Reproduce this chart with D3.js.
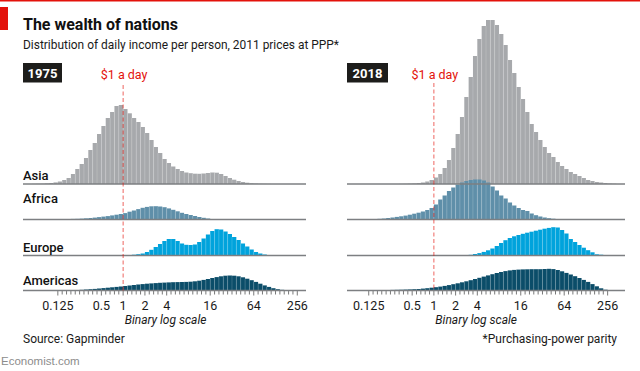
<!DOCTYPE html>
<html>
<head>
<meta charset="utf-8">
<script src="https://cdn.jsdelivr.net/npm/d3@7"></script>
<style>
  body { margin: 0; background: #fff; }
  svg { display: block; }
  text { font-family: Roboto, "Noto Sans", sans-serif; }
</style>
</head>
<body>
<svg id="chart" width="640" height="371"></svg>
<script>
// income bins: log2 of first bin edge, bins are 1/5 of a doubling wide
const binStart = -4.6;
const binStep = 0.2;

const regions = ['Asia', 'Africa', 'Europe', 'Americas'];
const years = ['1975', '2018'];
const tickLabels = [0.125, 0.5, 1, 2, 4, 16, 64, 256];
const povertyLine = 1;

// share of people per bin (arbitrary units)
const asia1975 = [0,0,0.1,0.2,0.3,0.6,1.0,1.6,2.5,4,6,10,15,20,26,34,41,50,58,66,72,78,79,75,70.7,66,62,57,51,44,37,31,25,21,17.5,15,13,11.5,10.8,10.3,10.2,10.5,11,11.5,11.3,10,8,6,4.3,3,2,1.3,0.8,0.5,0.3,0.2,0.1];
const africa1975 = [0,0,0.1,0.1,0.1,0.2,0.2,0.3,0.3,0.4,0.5,0.6,0.7,0.9,1.2,1.5,1.9,2.4,2.9,3.4,4.1,4.8,5.5,6.4,7.8,9,10.4,11.7,12.6,13.2,13.3,13,12.3,11.1,9.7,8.2,6.7,5.5,4.5,3.5,2.5,1.7,1.0,0.5,0.3,0.2,0.1];
const europe1975 = [0,0,0,0,0,0,0,0,0,0,0,0,0,0,0,0,0,0,0,0,0,0,0.1,0.3,0.5,0.8,1.3,2,3.5,5.7,8.5,11.5,14.5,16.5,16.5,14.5,12,10.7,10.5,11,13.5,17,21,24.5,26.3,26,24,21.5,18.5,15.5,12,9,6,3.5,2,1,0.5,0.2];
const americas1975 = [0,0,0,0,0,0.05,0.08,0.1,0.15,0.2,0.25,0.3,0.45,0.7,1.0,1.3,1.6,2.0,2.4,2.8,3.2,3.6,4.0,4.5,5.0,5.5,6.0,6.4,6.8,7.1,7.4,7.7,7.9,8.1,8.3,8.4,8.5,8.6,8.8,9.2,9.8,10.6,11.5,12.5,13.4,14.2,14.8,15,14.8,14.2,13.2,11.8,10.3,8.6,6.8,5.1,3.6,2.3,1.3,0.7,0.35,0.15];

const asia2018 = [0,0,0,0,0,0,0,0,0,0,0,0,0,0,0,0.1,0.2,0.4,0.6,1,1.5,2.5,4,6.5,10,16,24,36,50,67,87,107,128,145,158,164,164,159,150,139,124,111,97,85,72,60,52,44,37,31,27,22,18,15,12,10,8,6,4,3,2,1.5,1,0.5,0.3];
const africa2018 = [0,0,0,0.1,0.15,0.2,0.2,0.25,0.35,0.5,0.7,1.0,1.5,2.0,2.6,3.2,3.9,4.8,5.8,6.8,8,9.5,11.5,15,20,24,28.5,32,35,37,38.5,39.5,40,40,39,37,33,29,24,21,17,14,11.5,9.5,8.5,6,4.3,3,2,1.3,0.8,0.5,0.3,0.2,0.1];
const europe2018 = [0,0,0,0,0,0,0,0,0,0,0,0,0,0,0,0,0,0,0,0,0,0,0,0,0,0,0,0,0,0.1,0.3,0.7,1.5,2.4,3.6,5.2,7,9.5,12.5,15.3,17.5,19.2,20.5,21.7,22.8,23.8,24.8,25.8,26.8,27.6,28.3,28,25.5,22,16.5,13.5,10.5,7.8,5.3,3.2,1.2,0.8,0.3,0.1];
const americas2018 = [0,0,0,0.05,0.08,0.1,0.12,0.15,0.2,0.25,0.3,0.4,0.5,0.6,0.7,0.8,0.95,1.1,1.3,1.5,1.9,2.3,2.8,3.3,3.9,4.6,5.4,6.3,7.2,8.2,9.2,10.3,11.5,12.7,13.9,15.1,16.3,17.5,18.5,19.4,20.1,20.6,20.9,21.1,21.2,21.3,21.3,21.3,21.5,21.7,21.4,20.5,19.2,17.6,16,14.3,12.5,10.6,8.6,6.4,4.2,2.2,0.8,0.2];

const seriesByYear = {
    '1975': [asia1975, africa1975, europe1975, americas1975],
    '2018': [asia2018, africa2018, europe2018, americas2018],
};

// layout
const panels = [
    {year: '1975', x0: 23, x1: 306, lo: -4.6, hi: 8.4, boxW: 39, dashTop: 85, labels: true},
    {year: '2018', x0: 347, x1: 625, lo: -4.0, hi: 8.8, boxW: 41, dashTop: 83, labels: false},
];
const baselines = [184, 219.5, 255.5, 290.5];
const labelY = [180, 203, 252, 285];
const colors = ['#a7a9ac', '#5f8fa9', '#00a3dc', '#0b4d69'];
const red = '#e3120b';

const svg = d3.select('#chart');

// header
svg.append('rect').attr('x', 0).attr('y', 0).attr('width', 640).attr('height', 1.5).attr('fill', red);
svg.append('rect').attr('x', 0).attr('y', 7).attr('width', 8).attr('height', 23).attr('fill', red);
svg.append('text').attr('x', 23).attr('y', 30)
    .attr('font-size', 16.5).attr('font-weight', 700).attr('fill', '#111')
    .attr('textLength', 155).attr('lengthAdjust', 'spacingAndGlyphs')
    .text('The wealth of nations');
svg.append('text').attr('x', 23).attr('y', 49)
    .attr('font-size', 12.2).attr('fill', '#1a1a1a')
    .attr('textLength', 316).attr('lengthAdjust', 'spacingAndGlyphs')
    .text('Distribution of daily income per person, 2011 prices at PPP*');

const y = d3.scaleLinear().domain([0, 100]).range([0, 100]);

panels.forEach(p => {
    const x = d3.scaleLog().base(2).domain([2 ** p.lo, 2 ** p.hi]).range([p.x0, p.x1]);
    const g = svg.append('g');

    // year box
    g.append('rect').attr('x', p.x0).attr('y', 63).attr('width', p.boxW).attr('height', 19.5).attr('fill', '#1d1d1b');
    g.append('text').attr('x', p.x0 + p.boxW / 2).attr('y', 77.5)
        .attr('text-anchor', 'middle').attr('font-size', 13).attr('font-weight', 700).attr('fill', '#fff')
        .text(p.year);

    // bars
    seriesByYear[p.year].forEach((values, s) => {
        const bins = values.map((v, i) => ({
            v: v,
            a: 2 ** (binStart + i * binStep),
            b: 2 ** (binStart + (i + 1) * binStep),
        })).filter(d => d.v > 0 && d.b > 2 ** p.lo);

        const bars = g.append('g');
        bars.selectAll('rect')
            .data(bins)
            .enter().append('rect')
            .attr('x', d => Math.max(x(d.a), p.x0))
            .attr('width', d => Math.max(0, Math.min(x(d.b), p.x1) - Math.max(x(d.a), p.x0)))
            .attr('y', d => baselines[s] - y(d.v))
            .attr('height', d => y(d.v))
            .attr('fill', colors[s]);
        // faint light seams between bars
        bars.selectAll('line')
            .data(bins.slice(1))
            .enter().append('line')
            .attr('x1', d => x(d.a)).attr('x2', d => x(d.a))
            .attr('y1', baselines[s])
            .attr('y2', (d, i) => baselines[s] - y(Math.min(d.v, bins[i].v)))
            .attr('stroke', '#fff').attr('stroke-opacity', 0.28).attr('stroke-width', 0.6);
    });

    // baselines
    baselines.forEach(b => {
        g.append('line').attr('x1', p.x0).attr('x2', p.x1).attr('y1', b).attr('y2', b)
            .attr('stroke', '#7d7f82').attr('stroke-width', 1.3);
    });

    // axis ticks, one per bin edge from 0.125 to 256
    const ticks = d3.range(-3, 8.001, binStep).map(e => 2 ** e);
    g.append('g').selectAll('line')
        .data(ticks)
        .enter().append('line')
        .attr('x1', d => x(d)).attr('x2', d => x(d))
        .attr('y1', baselines[3] + 0.6)
        .attr('y2', d => baselines[3] + (tickLabels.some(t => Math.abs(Math.log2(t) - Math.log2(d)) < 1e-6) ? 5 : 4))
        .attr('stroke', '#555').attr('stroke-width', 0.8);

    g.append('g').selectAll('text')
        .data(tickLabels)
        .enter().append('text')
        .attr('x', d => x(d)).attr('y', 310)
        .attr('text-anchor', 'middle').attr('font-size', 12.5).attr('fill', '#1a1a1a')
        .text(d => String(d));

    g.append('text').attr('x', (x(2 ** -3) + x(256)) / 2 - 12).attr('y', 324)
        .attr('text-anchor', 'middle').attr('font-size', 12).attr('font-style', 'italic').attr('fill', '#1a1a1a')
        .text('Binary log scale');

    // $1 a day
    g.append('line').attr('x1', x(povertyLine)).attr('x2', x(povertyLine))
        .attr('y1', p.dashTop).attr('y2', baselines[3])
        .attr('stroke', red).attr('stroke-opacity', 0.65).attr('stroke-width', 1)
        .attr('stroke-dasharray', '4,2.5');
    g.append('text').attr('x', x(povertyLine) + 1).attr('y', 78.5)
        .attr('text-anchor', 'middle').attr('font-size', 12.5).attr('fill', red)
        .text('$1 a day');

    if (p.labels) {
        regions.forEach((r, i) => {
            g.append('text').attr('x', p.x0).attr('y', labelY[i])
                .attr('font-size', 13).attr('font-weight', 500).attr('fill', '#111')
                .text(r);
        });
    }
});

// footer
svg.append('text').attr('x', 23).attr('y', 343).attr('font-size', 12).attr('fill', '#1a1a1a')
    .text('Source: Gapminder');
svg.append('text').attr('x', 617).attr('y', 343).attr('text-anchor', 'end').attr('font-size', 12).attr('fill', '#1a1a1a')
    .text('*Purchasing-power parity');
svg.append('text').attr('x', 1).attr('y', 365).attr('font-size', 11.5).attr('fill', '#8c8c8c')
    .style('font-family', '"Liberation Sans", Arial, sans-serif')
    .text('Economist.com');
</script>
</body>
</html>
